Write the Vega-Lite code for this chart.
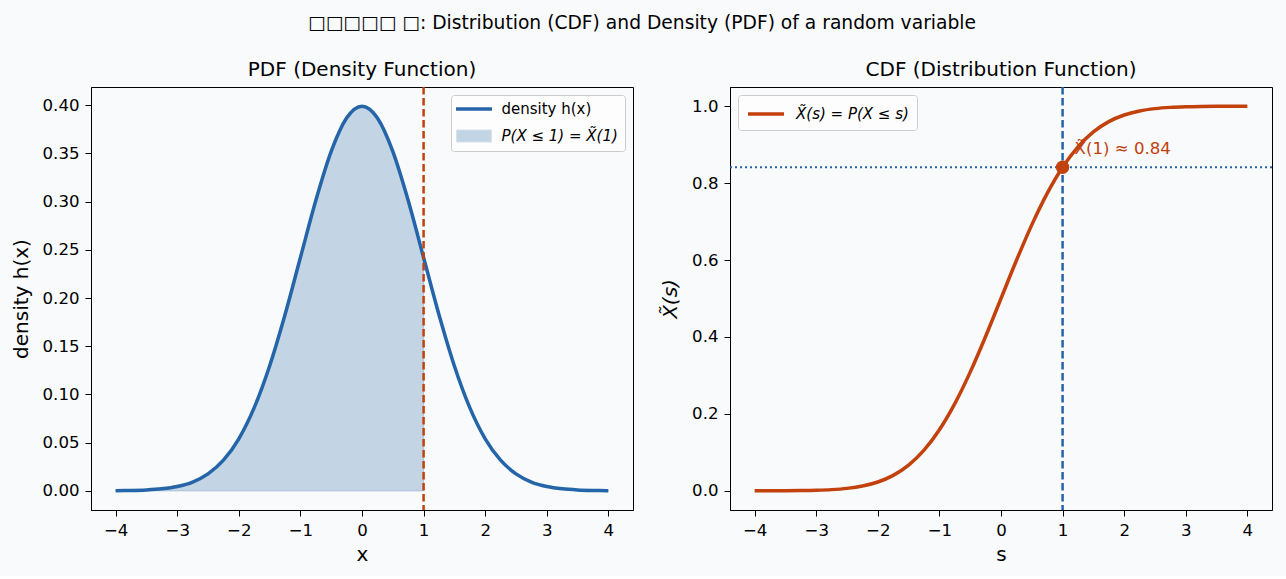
{
  "$schema": "https://vega.github.io/schema/vega-lite/v6.json",
  "background": "#f8fafc",
  "padding": {"left": 10, "top": 13, "right": 13, "bottom": 10},
  "title": {
    "text": "□□□□□ □: Distribution (CDF) and Density (PDF) of a random variable",
    "fontSize": 18.7, "fontWeight": "normal", "font": "DejaVu Sans", "color": "#000",
    "anchor": "middle", "offset": 27
  },
  "config": {
    "font": "DejaVu Sans",
    "view": {"stroke": "#000", "strokeWidth": 1},
    "axis": {
      "domainColor": "#000", "tickColor": "#000", "labelColor": "#000", "titleColor": "#000",
      "grid": false, "labelFontSize": 16.6, "titleFontSize": 20, "titleFontWeight": "normal",
      "tickSize": 6, "labelPadding": 6, "titlePadding": 11, "labelFont": "DejaVu Sans", "titleFont": "DejaVu Sans"
    },
    "axisX": {"titlePadding": 6},
    "title": {"fontWeight": "normal", "fontSize": 20, "color": "#000", "font": "DejaVu Sans", "offset": 6},
    "concat": {"spacing": 26},
    "legend": {
      "title": null, "offset": 8, "fillColor": "#fdfdfe", "strokeColor": "#cccccc",
      "cornerRadius": 3, "padding": 6.5, "rowPadding": 10, "labelFontSize": 15,
      "labelOffset": 29, "symbolSize": 324, "labelColor": "#000", "labelFont": "DejaVu Sans"
    }
  },
  "datasets": {
    "norm": [
      {"x": -4, "pdf": 0.000134, "cdf": 0.0000317},
      {"x": -3.75, "pdf": 0.000353, "cdf": 0.0000884},
      {"x": -3.5, "pdf": 0.000873, "cdf": 0.000233},
      {"x": -3.25, "pdf": 0.00203, "cdf": 0.000577},
      {"x": -3, "pdf": 0.00443, "cdf": 0.00135},
      {"x": -2.75, "pdf": 0.00909, "cdf": 0.00298},
      {"x": -2.5, "pdf": 0.01753, "cdf": 0.00621},
      {"x": -2.25, "pdf": 0.03174, "cdf": 0.01222},
      {"x": -2, "pdf": 0.05399, "cdf": 0.02275},
      {"x": -1.75, "pdf": 0.08628, "cdf": 0.04006},
      {"x": -1.5, "pdf": 0.12952, "cdf": 0.06681},
      {"x": -1.25, "pdf": 0.18265, "cdf": 0.10565},
      {"x": -1, "pdf": 0.24197, "cdf": 0.15866},
      {"x": -0.75, "pdf": 0.30114, "cdf": 0.22663},
      {"x": -0.5, "pdf": 0.35207, "cdf": 0.30854},
      {"x": -0.25, "pdf": 0.38667, "cdf": 0.40129},
      {"x": 0, "pdf": 0.39894, "cdf": 0.5},
      {"x": 0.25, "pdf": 0.38667, "cdf": 0.59871},
      {"x": 0.5, "pdf": 0.35207, "cdf": 0.69146},
      {"x": 0.75, "pdf": 0.30114, "cdf": 0.77337},
      {"x": 1, "pdf": 0.24197, "cdf": 0.84134},
      {"x": 1.25, "pdf": 0.18265, "cdf": 0.89435},
      {"x": 1.5, "pdf": 0.12952, "cdf": 0.93319},
      {"x": 1.75, "pdf": 0.08628, "cdf": 0.95994},
      {"x": 2, "pdf": 0.05399, "cdf": 0.97725},
      {"x": 2.25, "pdf": 0.03174, "cdf": 0.98778},
      {"x": 2.5, "pdf": 0.01753, "cdf": 0.99379},
      {"x": 2.75, "pdf": 0.00909, "cdf": 0.99702},
      {"x": 3, "pdf": 0.00443, "cdf": 0.99865},
      {"x": 3.25, "pdf": 0.00203, "cdf": 0.99942},
      {"x": 3.5, "pdf": 0.000873, "cdf": 0.99977},
      {"x": 3.75, "pdf": 0.000353, "cdf": 0.99991},
      {"x": 4, "pdf": 0.000134, "cdf": 0.99997}
    ],
    "marker": [
      {"s": 1, "p": 0.84134, "label": "X̃(1) ≈ 0.84"}
    ]
  },
  "resolve": {"scale": {"color": "independent", "x": "independent", "y": "independent"}, "legend": {"color": "independent"}},
  "hconcat": [
    {
      "width": 542, "height": 423,
      "title": {"text": "PDF (Density Function)"},
      "layer": [
        {
          "data": {"name": "norm"},
          "transform": [{"filter": "datum.x <= 1"}],
          "mark": {"type": "area", "stroke": "#a8bfd7", "strokeWidth": 1, "interpolate": "monotone", "fillOpacity": 1},
          "encoding": {
            "x": {"field": "x", "type": "quantitative", "scale": {"domain": [-4.4, 4.4], "nice": false, "zero": false},
                  "axis": {"values": [-4, -3, -2, -1, 0, 1, 2, 3, 4], "format": "d", "labelExpr": "replace(datum.label, '-', '\u2212')"}, "title": "x"},
            "y": {"field": "pdf", "type": "quantitative", "scale": {"domain": [-0.0199, 0.4189], "nice": false, "zero": false},
                  "axis": {"values": [0, 0.05, 0.1, 0.15, 0.2, 0.25, 0.3, 0.35, 0.4], "format": ".2f"}, "title": "density h(x)"},
            "y2": {"datum": 0},
            "color": {"datum": "P(X ≤ 1) = X̃(1)", "type": "nominal",
                      "scale": {"domain": ["density h(x)", "P(X ≤ 1) = X̃(1)"], "range": ["#2464a8", "#c3d4e4"]},
                      "legend": {
                        "orient": "top-right",
                        "encode": {
                          "symbols": {"update": {
                            "shape": {"signal": "datum.value === 'density h(x)' ? 'M-1,0H3' : 'M-0.9,-0.65H2.9V0.65H-0.9Z'"},
                            "fill": {"signal": "datum.value === 'density h(x)' ? 'transparent' : '#c3d4e4'"},
                            "stroke": {"signal": "datum.value === 'density h(x)' ? '#2464a8' : '#a8bfd7'"},
                            "strokeWidth": {"signal": "datum.value === 'density h(x)' ? 3.5 : 1"},
                            "opacity": {"value": 1}, "fillOpacity": {"value": 1}, "strokeOpacity": {"value": 1}
                          }},
                          "labels": {"update": {
                            "fontStyle": {"signal": "datum.value === 'density h(x)' ? 'normal' : 'italic'"}
                          }}
                        }
                      }}
          }
        },
        {
          "data": {"name": "norm"},
          "mark": {"type": "line", "strokeWidth": 3.5, "interpolate": "monotone"},
          "encoding": {
            "x": {"field": "x", "type": "quantitative"},
            "y": {"field": "pdf", "type": "quantitative"},
            "color": {"datum": "density h(x)", "type": "nominal",
                      "scale": {"domain": ["density h(x)", "P(X ≤ 1) = X̃(1)"], "range": ["#2464a8", "#c3d4e4"]},
                      "legend": {
                        "orient": "top-right",
                        "encode": {
                          "symbols": {"update": {
                            "shape": {"signal": "datum.value === 'density h(x)' ? 'M-1,0H3' : 'M-0.9,-0.65H2.9V0.65H-0.9Z'"},
                            "fill": {"signal": "datum.value === 'density h(x)' ? 'transparent' : '#c3d4e4'"},
                            "stroke": {"signal": "datum.value === 'density h(x)' ? '#2464a8' : '#a8bfd7'"},
                            "strokeWidth": {"signal": "datum.value === 'density h(x)' ? 3.5 : 1"},
                            "opacity": {"value": 1}, "fillOpacity": {"value": 1}, "strokeOpacity": {"value": 1}
                          }},
                          "labels": {"update": {
                            "fontStyle": {"signal": "datum.value === 'density h(x)' ? 'normal' : 'italic'"}
                          }}
                        }
                      }}
          }
        },
        {
          "data": {"values": [{"at": 1}]},
          "mark": {"type": "rule", "color": "#c2410c", "strokeWidth": 2.5, "strokeDash": [7.5, 3.5]},
          "encoding": {"x": {"field": "at", "type": "quantitative"}}
        }
      ]
    },
    {
      "width": 542, "height": 423,
      "title": {"text": "CDF (Distribution Function)"},
      "layer": [
        {
          "data": {"name": "norm"},
          "mark": {"type": "line", "strokeWidth": 3.5, "interpolate": "monotone"},
          "encoding": {
            "x": {"field": "x", "type": "quantitative", "scale": {"domain": [-4.4, 4.4], "nice": false, "zero": false},
                  "axis": {"values": [-4, -3, -2, -1, 0, 1, 2, 3, 4], "format": "d", "labelExpr": "replace(datum.label, '-', '\u2212')"}, "title": "s"},
            "y": {"field": "cdf", "type": "quantitative", "scale": {"domain": [-0.05, 1.05], "nice": false, "zero": false},
                  "axis": {"values": [0, 0.2, 0.4, 0.6, 0.8, 1.0], "format": ".1f", "titleFontStyle": "italic"}, "title": "X̃(s)"},
            "color": {"datum": "X̃(s) = P(X ≤ s)", "type": "nominal",
                      "scale": {"domain": ["X̃(s) = P(X ≤ s)"], "range": ["#c2410c"]},
                      "legend": {
                        "orient": "top-left", "padding": 8, "labelOffset": 28,
                        "encode": {
                          "symbols": {"update": {
                            "shape": {"value": "M-1,0H3"},
                            "fill": {"value": "transparent"},
                            "stroke": {"value": "#c2410c"},
                            "strokeWidth": {"value": 3.5},
                            "opacity": {"value": 1}
                          }},
                          "labels": {"update": {"fontStyle": {"value": "italic"}}}
                        }
                      }}
          }
        },
        {
          "data": {"values": [{"at": 1}]},
          "mark": {"type": "rule", "color": "#2464a8", "strokeWidth": 2.5, "strokeDash": [7.5, 3.5]},
          "encoding": {"x": {"field": "at", "type": "quantitative"}}
        },
        {
          "data": {"values": [{"level": 0.84134}]},
          "mark": {"type": "rule", "color": "#2464a8", "strokeWidth": 2, "strokeDash": [2, 3]},
          "encoding": {"y": {"field": "level", "type": "quantitative"}}
        },
        {
          "data": {"name": "marker"},
          "mark": {"type": "point", "filled": true, "color": "#c2410c", "size": 180, "opacity": 1},
          "encoding": {
            "x": {"field": "s", "type": "quantitative"},
            "y": {"field": "p", "type": "quantitative"}
          }
        },
        {
          "data": {"name": "marker"},
          "mark": {"type": "text", "color": "#c2410c", "fontSize": 16.6, "align": "left", "baseline": "middle", "dx": 12, "dy": -18},
          "encoding": {
            "x": {"field": "s", "type": "quantitative"},
            "y": {"field": "p", "type": "quantitative"},
            "text": {"field": "label"}
          }
        }
      ]
    }
  ]
}
